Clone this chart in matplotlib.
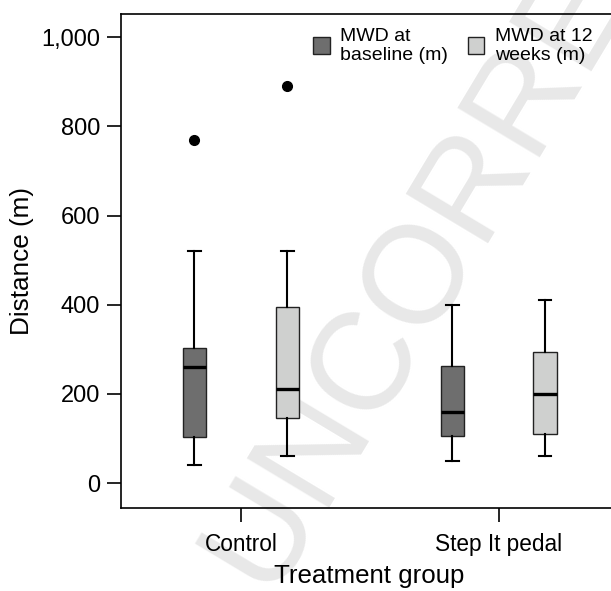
import matplotlib
matplotlib.use("Agg")
import matplotlib.pyplot as plt
from matplotlib.patches import Patch

plt.rcParams['font.family'] = ['Liberation Sans', 'DejaVu Sans']

groups = ["Control", "Step It pedal"]
series = ["MWD at\nbaseline (m)", "MWD at 12\nweeks (m)"]
colors = ["#6e6e6e", "#cfd0cf"]

# stats per series, per group: whislo, q1, med, q3, whishi, outliers
whislo = [[40, 50], [60, 60]]
q1 = [[103, 105], [145, 110]]
med = [[260, 160], [210, 200]]
q3 = [[302, 262], [395, 295]]
whishi = [[520, 400], [520, 410]]
fliers = [[[770], []], [[890], []]]

yticks = [0, 200, 400, 600, 800, 1000]
ytick_labels = ["0", "200", "400", "600", "800", "1,000"]

fig = plt.figure(figsize=(6.11, 5.91), dpi=100)
ax = fig.add_axes([121/611, 1-508/591, 1-121/611+0.01, (508-14)/591])

# watermark
ax.text(0.438, -0.005, "UNCORRECTED", transform=fig.transFigure, rotation=59,
        rotation_mode='anchor', ha='left', va='baseline', fontsize=100,
        color='#e8e8e8', zorder=0.5, clip_on=False)

offsets = [-0.18, 0.18]
for s in range(2):
    stats = []
    for g in range(2):
        stats.append(dict(whislo=whislo[s][g], q1=q1[s][g], med=med[s][g],
                          q3=q3[s][g], whishi=whishi[s][g], fliers=fliers[s][g]))
    pos = [g + 1 + offsets[s] for g in range(2)]
    ax.bxp(stats, positions=pos, widths=0.09, patch_artist=True, showfliers=True,
           boxprops=dict(facecolor=colors[s], edgecolor='#222222', linewidth=1.0),
           medianprops=dict(color='black', linewidth=2.4),
           whiskerprops=dict(color='black', linewidth=1.5),
           capprops=dict(color='black', linewidth=1.5),
           capwidths=0.05,
           flierprops=dict(marker='o', markerfacecolor='black', markeredgecolor='black',
                           markersize=7))

ax.set_xlim(0.535, 2.46)
ax.set_ylim(-56, 1052)
ax.set_xticks([1, 2])
ax.set_xticklabels(groups)
ax.set_yticks(yticks)
ax.set_yticklabels(ytick_labels)
ax.tick_params(axis='y', length=10, width=1.2, direction='out', pad=5, labelsize=17)
ax.tick_params(axis='x', length=10, width=1.2, direction='out', pad=8, labelsize=16.3)
ax.spines['right'].set_visible(False)
for sp in ['left', 'top', 'bottom']:
    ax.spines[sp].set_linewidth(1.2)

ax.set_ylabel("Distance (m)", fontsize=18.8, labelpad=5)
ax.set_xlabel("Treatment group", fontsize=18.6, labelpad=6)

handles = [Patch(facecolor=colors[i], edgecolor='#222222', linewidth=1.0, label=series[i])
           for i in range(2)]
leg = ax.legend(handles=handles, ncol=2, frameon=False, loc='upper left',
                bbox_to_anchor=(0.36, 1.0), fontsize=14, handlelength=0.85,
                handleheight=1.0, handletextpad=0.55, columnspacing=1.0,
                labelspacing=0.2, borderaxespad=0.3)
for t in leg.get_texts():
    t.set_linespacing(1.15)

fig.savefig("out.png", dpi=100)
